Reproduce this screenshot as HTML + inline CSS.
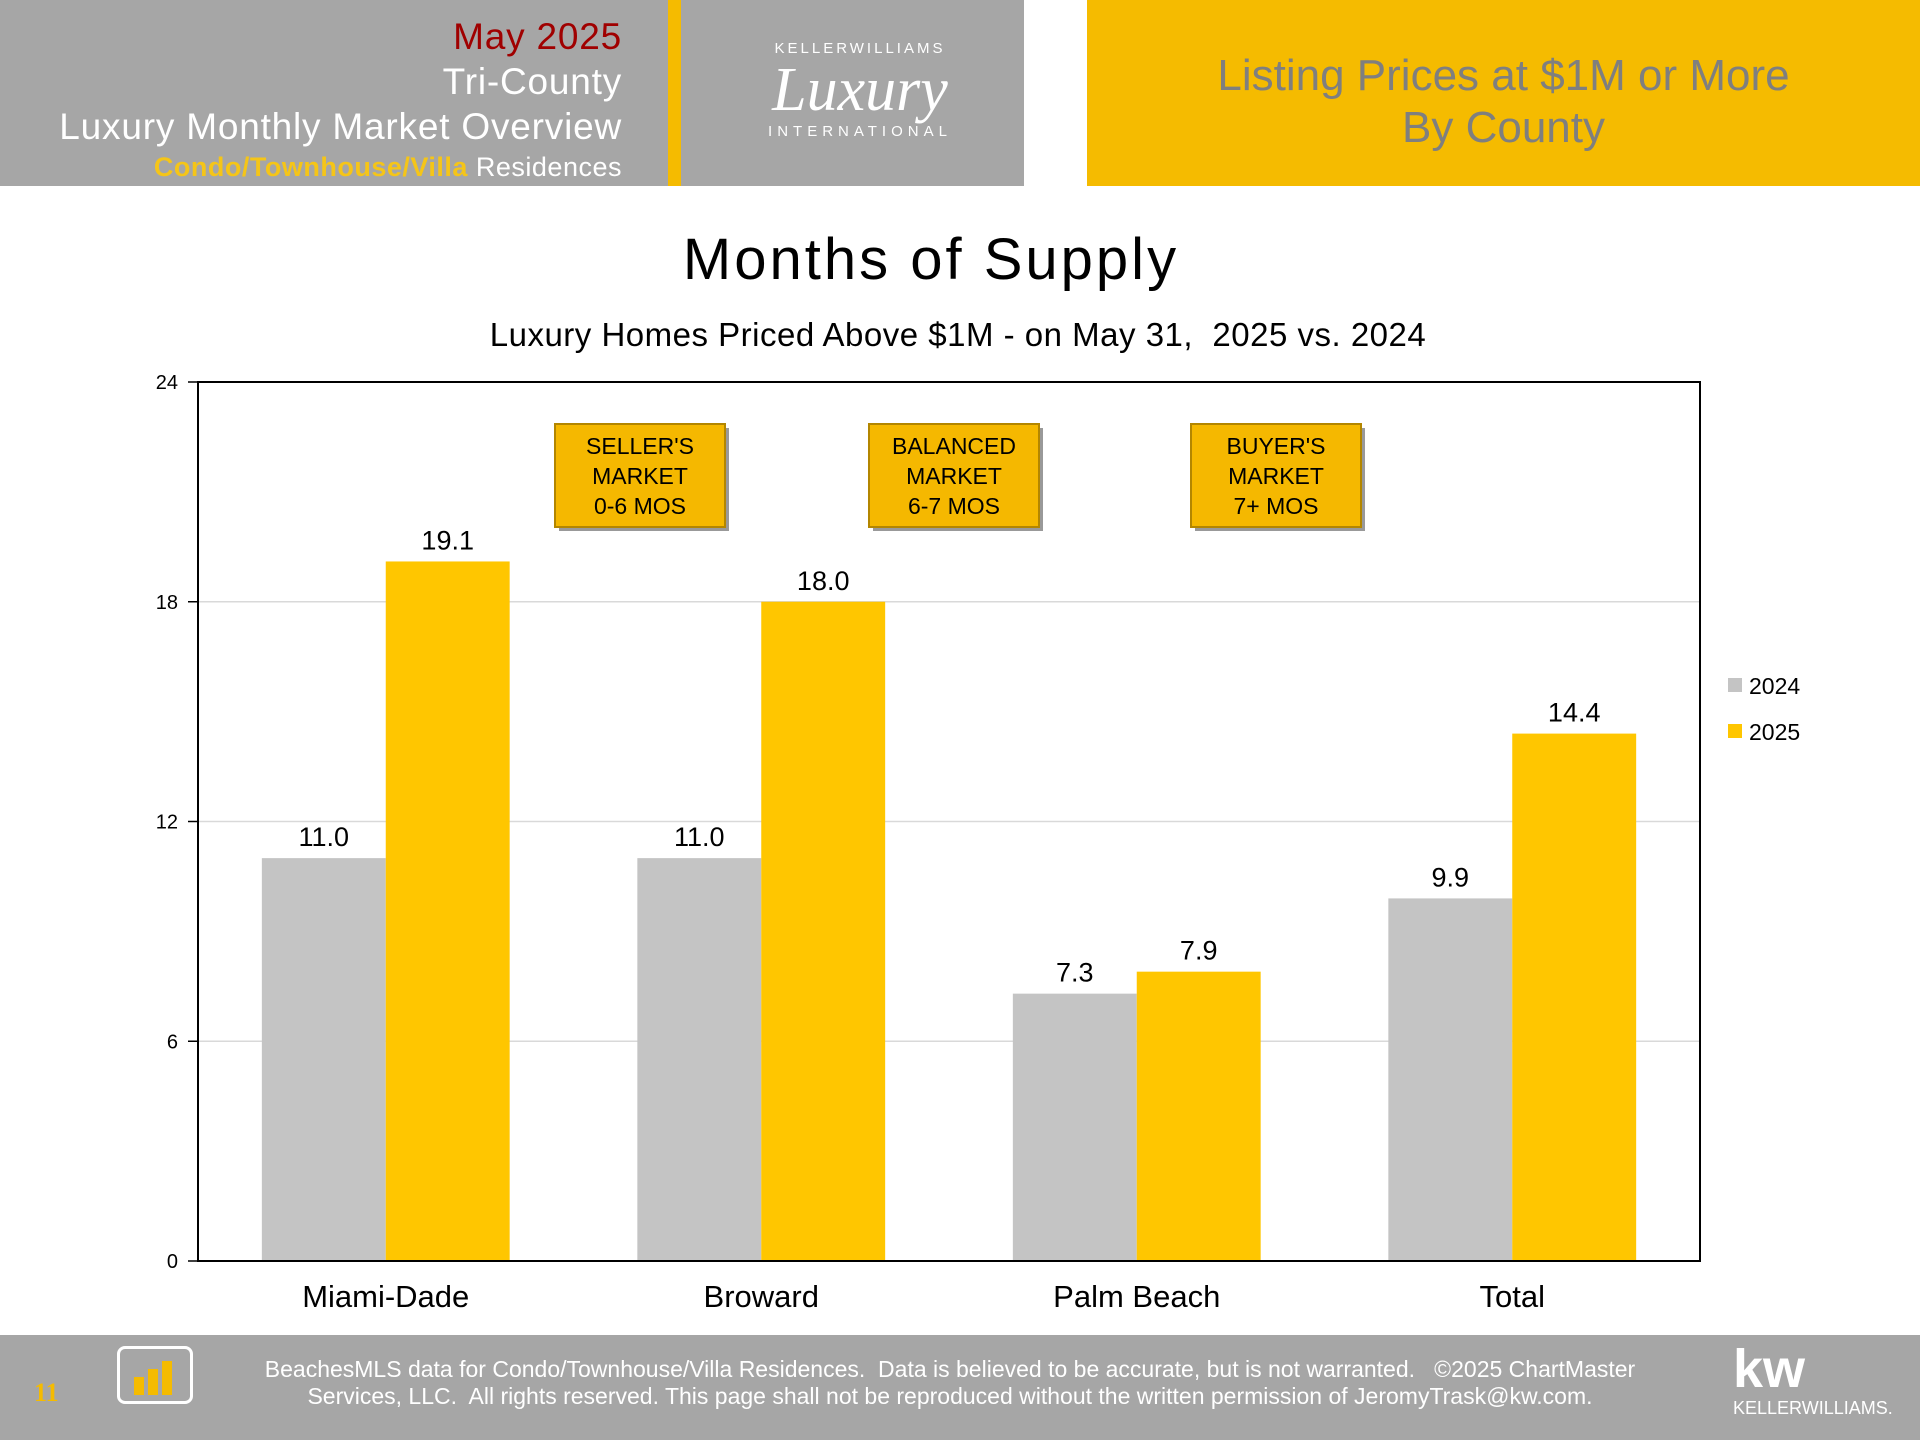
<!DOCTYPE html>
<html><head><meta charset="utf-8"><style>
body{margin:0;width:1920px;height:1440px;background:#fff;font-family:"Liberation Sans",sans-serif;position:relative;overflow:hidden}
.a{position:absolute}
</style></head><body>
<div class="a" style="left:0;top:0;width:668px;height:186px;background:#a6a6a6"></div>
<div class="a" style="left:668px;top:0;width:13px;height:186px;background:#f5bb00"></div>
<div class="a" style="left:681px;top:0;width:343px;height:186px;background:#a6a6a6"></div>
<div class="a" style="left:1087px;top:0;width:833px;height:186px;background:#f5bb00"></div>
<div class="a" style="right:1298px;top:14px;text-align:right;color:#fff;font-size:37px;letter-spacing:0.8px;line-height:45px;white-space:nowrap">
<div style="color:#a00000">May 2025</div><div>Tri-County</div><div>Luxury Monthly Market Overview</div>
<div style="font-size:27px;line-height:36px;letter-spacing:0.5px"><b style="color:#f5c518">Condo/Townhouse/Villa</b> Residences</div></div>
<div class="a" style="left:700px;top:40px;width:320px;color:#fff;text-align:center">
<div style="font-size:15px;letter-spacing:3px">KELLERWILLIAMS</div>
<div style="font-family:'Liberation Serif',serif;font-style:italic;font-size:62px;line-height:66px">Luxury</div>
<div style="font-size:15px;letter-spacing:5px">INTERNATIONAL</div></div>
<div class="a" style="left:1087px;width:833px;top:50px;text-align:center;color:#7f7f7f;font-size:44px;line-height:52px">Listing Prices at $1M or More<br>By County</div>

<div class="a" style="left:0;width:1862px;top:226px;text-align:center;font-size:58px;letter-spacing:3px">Months of Supply</div>
<div class="a" style="left:0;width:1916px;top:316px;text-align:center;font-size:33px;letter-spacing:0.5px">Luxury Homes Priced Above $1M - on May 31,&nbsp; 2025 vs. 2024</div>

<svg class="a" style="left:0;top:0" width="1920" height="1440" id="chart"></svg>

<div class="a" style="left:0;top:1335px;width:1920px;height:105px;background:#a6a6a6"></div>
<div class="a" style="left:34px;top:1378px;color:#f5bb00;font-family:'Liberation Serif',serif;font-size:26px;font-weight:bold">11</div>
<div class="a" style="left:117px;top:1346px;width:70px;height:52px;border:3px solid #fff;border-radius:8px">
<div style="position:absolute;left:14px;bottom:6px;width:10px;height:18px;background:#f5bb00"></div>
<div style="position:absolute;left:28px;bottom:6px;width:10px;height:26px;background:#f5bb00"></div>
<div style="position:absolute;left:42px;bottom:6px;width:10px;height:34px;background:#f5bb00"></div></div>
<div class="a" style="left:200px;width:1500px;top:1356px;text-align:center;color:#fff;font-size:23px;line-height:27px">BeachesMLS data for Condo/Townhouse/Villa Residences.&nbsp; Data is believed to be accurate, but is not warranted.&nbsp;&nbsp; ©2025 ChartMaster<br>Services, LLC.&nbsp; All rights reserved. This page shall not be reproduced without the written permission of JeromyTrask@kw.com.</div>
<div class="a" style="left:1733px;top:1340px;color:#fff;text-align:left"><div style="font-size:54px;font-weight:bold;line-height:58px">kw</div><div style="font-size:18px">KELLERWILLIAMS.</div></div>

<script>
const categories=["Miami-Dade","Broward","Palm Beach","Total"];
const values2024=[11.0,11.0,7.3,9.9];
const values2025=[19.1,18.0,7.9,14.4];
const yTicks=[0,6,12,18,24];
const seriesNames=["2024","2025"];
const colors=["#c4c4c4","#ffc600"];
const NS="http://www.w3.org/2000/svg";
const svg=document.getElementById('chart');
const L=198,R=1700,T=382,B=1261,yMax=24;
const y=v=>B-(v/yMax)*(B-T);
const gw=(R-L)/categories.length;
const x=i=>L+gw*i;
function mk(t,a){const e=document.createElementNS(NS,t);for(const k in a)e.setAttribute(k,a[k]);svg.appendChild(e);return e;}
yTicks.forEach(t=>{
  if(t>0&&t<yMax){const g=mk('line',{x1:L,x2:R,y1:y(t),y2:y(t),stroke:'#d9d9d9','stroke-width':1.5});
  
  }
  const tk=mk('line',{x1:L-10,x2:L,y1:y(t),y2:y(t),stroke:'#000','stroke-width':1.5});
  
  
  const lb=mk('text',{x:L-20,y:y(t)+7,'text-anchor':'end','font-size':20,'font-family':'Liberation Sans'});
  lb.textContent=t;
  
  
});
const bw=gw*0.33, off=gw*0.17;
[values2024,values2025].forEach((vals,s)=>{
  vals.forEach((v,i)=>{
    const bx=x(i)+off+s*bw;
    const r=mk('rect',{x:bx,y:y(v),width:bw,height:B-y(v),fill:colors[s]});
    
    
    const t=mk('text',{x:bx+bw/2,y:y(v)-12,'text-anchor':'middle','font-size':27,'font-family':'Liberation Sans'});
    t.textContent=v.toFixed(1);
    
    
  });
});
categories.forEach((c,i)=>{
  const t=mk('text',{x:x(i)+gw/2,y:B+46,'text-anchor':'middle','font-size':31,'font-family':'Liberation Sans'});
  t.textContent=c;
  
  
});
const fr=mk('rect',{x:L,y:T,width:R-L,height:B-T,fill:'none',stroke:'#000','stroke-width':2});


seriesNames.forEach((n,s)=>{
  const r=mk('rect',{x:1728,y:678+s*46,width:14,height:14,fill:colors[s]});
  
  
  const t=mk('text',{x:1749,y:694+s*46,'font-size':23,'font-family':'Liberation Sans'});
  t.textContent=n;
  
  
});
const boxes=[[555,["SELLER'S","MARKET","0-6 MOS"]],[869,["BALANCED","MARKET","6-7 MOS"]],[1191,["BUYER'S","MARKET","7+ MOS"]]];
boxes.forEach(([bx,lines])=>{
  const sh=mk('rect',{x:bx+4,y:428,width:170,height:103,fill:'#999'});
  
  
  const r=mk('rect',{x:bx,y:424,width:170,height:103,fill:'#f5b800',stroke:'#b38600','stroke-width':2});
  
  
  lines.forEach((l,k)=>{const t=mk('text',{x:bx+85,y:454+k*30,'text-anchor':'middle','font-size':23,'font-family':'Liberation Sans'});
    t.textContent=l;
    
    });
});
</script>
</body></html>
